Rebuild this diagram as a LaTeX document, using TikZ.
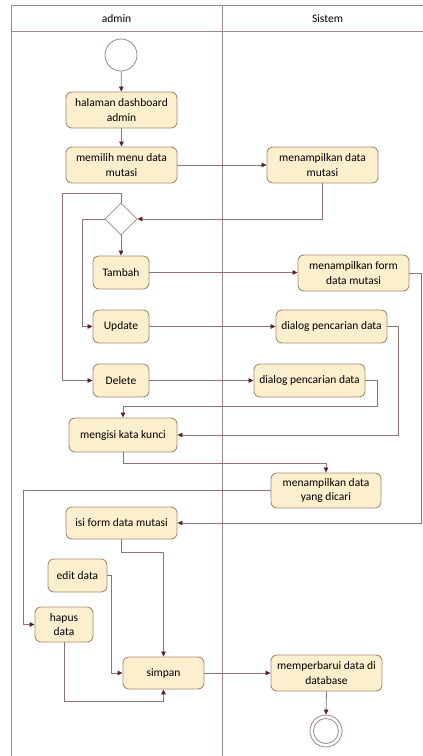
\documentclass[tikz,border=0pt]{standalone}
\usepackage{fontspec}
\setmainfont{Carlito}
\usetikzlibrary{arrows.meta,shapes.geometric}
\definecolor{actfill}{HTML}{FCEFCE}
\definecolor{actdraw}{HTML}{A58C72}
\definecolor{flowc}{HTML}{8E7474}
\definecolor{tipc}{HTML}{5A2424}
\definecolor{lanec}{HTML}{9A8A8A}
\tikzset{
  act/.style={draw=actdraw, fill=actfill, line width=0.9pt, rounded corners=6pt,
    inner sep=0pt, align=center, font=\fontsize{11.5}{14.5}\selectfont},
  flow/.style={draw=flowc, line width=0.8pt,
    -{Triangle[length=5pt,width=4.5pt,color=tipc]}},
  plainflow/.style={draw=flowc, line width=0.8pt},
  lane/.style={draw=lanec, line width=0.9pt},
  startnode/.style={circle, draw=lanec, fill=white, line width=0.8pt, minimum size=32pt, inner sep=0pt},
  decision/.style={diamond, draw=lanec, fill=white, line width=0.8pt, minimum width=32pt, minimum height=32pt, inner sep=0pt},
  hdr/.style={font=\fontsize{11.5}{14}\selectfont}
}
\begin{document}
\begin{tikzpicture}[x=1pt,y=-1pt]
\useasboundingbox (0,0) rectangle (423,756);
\fill[white] (0,0) rectangle (423,756);

% swimlanes
\draw[lane] (423,5) -- (11,5) -- (11,760);
\draw[lane] (11,31) -- (423,31);
\draw[lane] (222,5) -- (222,760);
\node[hdr] (h1) at (116.5,18.5) {admin};
\node[hdr] (h2) at (327.5,18.5) {Sistem};

% admin lane
\node[startnode] (start) at (121,55) {};
\node[act, minimum width=111pt, minimum height=36pt] (n1) at (121.5,110) {halaman dashboard\\admin};
\node[act, minimum width=111pt, minimum height=36pt] (n2) at (121.5,165) {memilih menu data\\mutasi};
\node[decision] (d) at (121,219) {};
\node[act, minimum width=56pt, minimum height=33pt] (tambah) at (121,272.5) {Tambah};
\node[act, minimum width=56pt, minimum height=33pt] (update) at (121,326.5) {Update};
\node[act, minimum width=56pt, minimum height=33pt] (delete) at (121,380.5) {Delete};
\node[act, minimum width=108pt, minimum height=34pt] (kunci) at (123,435) {mengisi kata kunci};
\node[act, minimum width=111pt, minimum height=32pt] (isi) at (121.5,523) {isi form data mutasi};
\node[act, minimum width=59pt, minimum height=33pt] (edit) at (77.5,575.5) {edit data};
\node[act, minimum width=58pt, minimum height=35pt] (hapus) at (64,624.5) {hapus\\data};
\node[act, minimum width=81pt, minimum height=32pt] (simpan) at (163.5,673) {simpan};

% system lane
\node[act, minimum width=111pt, minimum height=36pt] (s1) at (322.5,165) {menampilkan data\\mutasi};
\node[act, minimum width=111pt, minimum height=36pt] (s2) at (353.5,273) {menampilkan form\\data mutasi};
\node[act, minimum width=111pt, minimum height=33pt] (s3) at (331.5,326.5) {dialog pencarian data};
\node[act, minimum width=111pt, minimum height=33pt] (s4) at (309.5,380.5) {dialog pencarian data};
\node[act, minimum width=110pt, minimum height=35pt] (s5) at (326,490.5) {menampilkan data\\yang dicari};
\node[act, minimum width=111pt, minimum height=36pt] (s6) at (326.5,673) {memperbarui data di\\database};

% final node
\node[circle, draw=lanec, fill=white, line width=0.8pt, minimum size=32pt, inner sep=0pt] (end) at (326,731) {};
\draw[lanec, line width=0.8pt] (end.center) circle (12.5pt);

% routing points
\coordinate (lp1) at (62,193);
\coordinate (lp2) at (82,219);
\coordinate (c1) at (377,406);
\coordinate (c2) at (398,435);
\coordinate (c3) at (326,463);
\coordinate (c4) at (23,490.5);
\coordinate (c5) at (421,523);
\coordinate (c6) at (163.5,552);
\coordinate (c7) at (111,575.5);
\coordinate (c8) at (163.5,701);

% flows
\draw[flow] (start) -- (n1);
\draw[flow] (n1) -- (n2);
\draw[flow] (n2.east) -- (s1.west);
\draw[flow] (s1.south) |- (d.east);
\draw[flow] (d.south) -- (tambah.north);
\draw[flow] (d.north) |- (lp1) |- (delete.west);
\draw[flow] (d.west) -- (lp2) |- (update.west);
\draw[flow] (tambah.east) -- (tambah.east -| s2.west);
\draw[flow] (update.east) -- (s3.west);
\draw[flow] (delete.east) -- (s4.west);
\draw[flow] (s4.east) -| (c1) -| (kunci.north);
\draw[flow] (s3.east) -| (c2) -- (kunci.east);
\draw[flow] (kunci.south) |- (c3) -- (s5.north);
\draw[flow] (s5.west) -- (c4) |- (hapus.west);
\draw[flow] (s2.east) -| (c5) -- (isi.east);
\draw[flow] (isi.south) |- (c6) -- (simpan.north);
\draw[flow] (edit.east) -- (c7) |- (simpan.west);
\draw[flow] (hapus.south) |- (c8) -- (simpan.south);
\draw[flow] (simpan.east) -- (s6.west);
\draw[flow] (s6.south) -- (end.north);
\end{tikzpicture}
\end{document}
